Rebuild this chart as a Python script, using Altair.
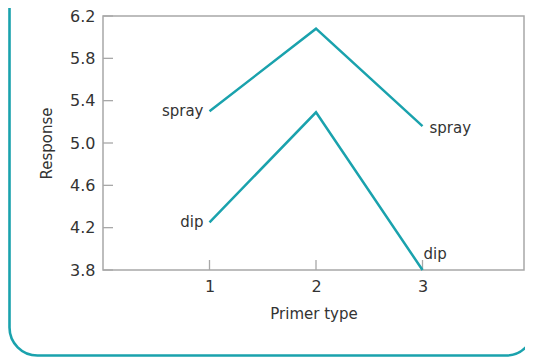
import altair as alt
import pandas as pd

primer = [1, 2, 3]
spray = [5.30, 6.08, 5.16]
dip = [4.25, 5.29, 3.80]
y_ticks = [3.8, 4.2, 4.6, 5.0, 5.4, 5.8, 6.2]
x_ticks = [1, 2, 3]

TEAL = "#1aa2ad"
GRAY = "#a8a8a8"
TXT = "#333333"
FONT = "DejaVu Sans"

W, H = 421, 254

df = pd.DataFrame({
    "primer": primer * 2,
    "response": spray + dip,
    "method": ["spray"] * 3 + ["dip"] * 3,
})

xs = alt.Scale(domain=[0, 3.953], nice=False, zero=False)
ys = alt.Scale(domain=[3.8, 6.2], nice=False, zero=False)

base = alt.Chart(df)

frame = alt.Chart(pd.DataFrame({"k": [0]})).mark_rect(
    fill=None, stroke=TEAL, strokeWidth=2.6, cornerRadius=28
).encode(
    x=alt.value(-93.5), x2=alt.value(431), y=alt.value(-60), y2=alt.value(339.5)
)

lines = base.mark_line(color=TEAL, strokeWidth=2.5).encode(
    x=alt.X("primer:Q", scale=xs,
            axis=alt.Axis(values=x_ticks, title="Primer type", format="d")),
    y=alt.Y("response:Q", scale=ys,
            axis=alt.Axis(values=y_ticks, title="Response", format=".1f")),
    detail="method:N",
)

left_lab = base.transform_filter("datum.primer == 1").mark_text(
    align="right", baseline="middle", dx=-6, fontSize=15, font=FONT, color=TXT
).encode(x=alt.X("primer:Q", scale=xs), y=alt.Y("response:Q", scale=ys), text="method:N")

spray_right = base.transform_filter("datum.primer == 3 && datum.method == 'spray'").mark_text(
    align="left", baseline="middle", dx=7, dy=2, fontSize=15, font=FONT, color=TXT
).encode(x=alt.X("primer:Q", scale=xs), y=alt.Y("response:Q", scale=ys), text="method:N")

dip_right = base.transform_filter("datum.primer == 3 && datum.method == 'dip'").mark_text(
    align="left", baseline="middle", dx=1, dy=-16, fontSize=15, font=FONT, color=TXT
).encode(x=alt.X("primer:Q", scale=xs), y=alt.Y("response:Q", scale=ys), text="method:N")

yt = alt.Chart(pd.DataFrame({"v": y_ticks})).mark_rule(color=GRAY, strokeWidth=1.3).encode(
    y=alt.Y("v:Q", scale=ys), x=alt.value(0), x2=alt.value(10)
)
xt = alt.Chart(pd.DataFrame({"v": x_ticks})).mark_rule(color=GRAY, strokeWidth=1.3).encode(
    x=alt.X("v:Q", scale=xs), y=alt.value(H - 10), y2=alt.value(H)
)

chart = alt.layer(frame, yt, xt, lines, left_lab, spray_right, dip_right).properties(
    width=W, height=H,
    autosize=alt.AutoSizeParams(type="none"),
    padding={"left": 95, "top": 8, "right": 1, "bottom": 88},
).configure_view(
    stroke=GRAY, strokeWidth=1.5
).configure_axis(
    domain=False, ticks=False, grid=False,
    labelFont=FONT, labelFontSize=16, labelColor=TXT,
    titleFont=FONT, titleFontSize=15, titleColor=TXT, titleFontWeight="normal",
).configure_axisY(
    labelPadding=8, titlePadding=15,
).configure_axisX(
    labelPadding=8, titlePadding=12,
)

chart.save("out.html", embed_options={"renderer": "svg", "actions": False})
